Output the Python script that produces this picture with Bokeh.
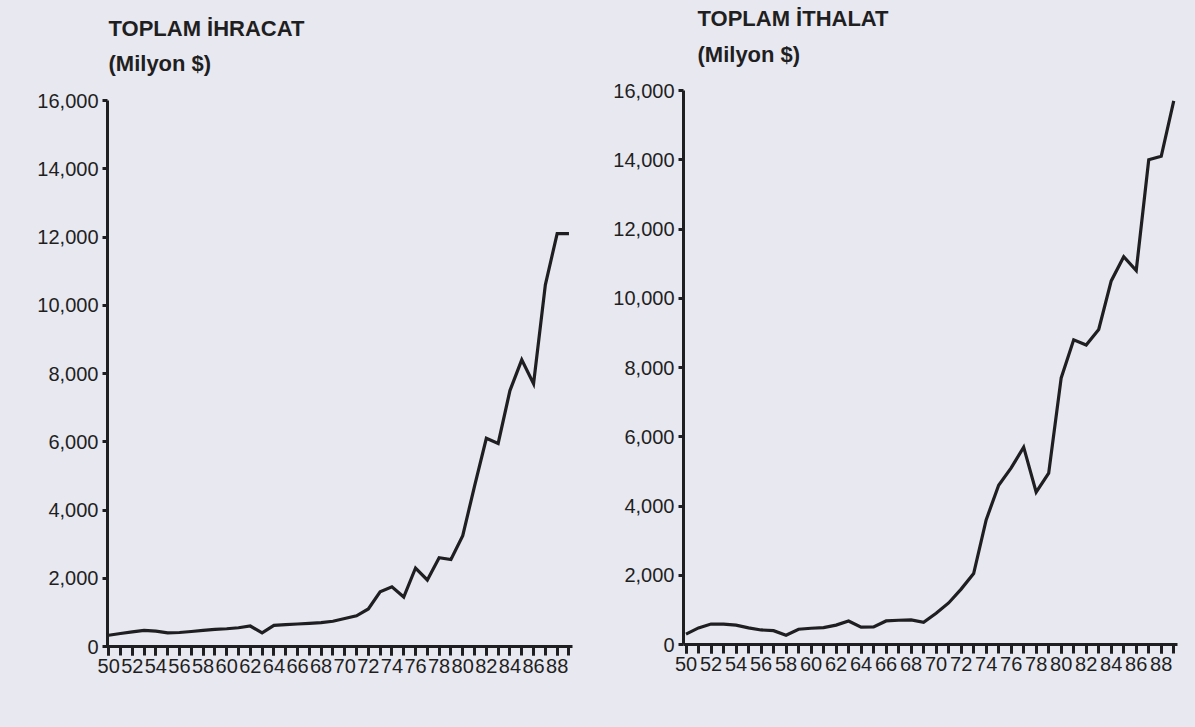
from bokeh.plotting import figure
from bokeh.layouts import row, column
from bokeh.models import FixedTicker, NumeralTickFormatter, Label, Range1d
from bokeh.embed import file_html
from bokeh.resources import INLINE

# ---------------- data ----------------
years = list(range(1950, 1990))

exports = [330, 380, 430, 470, 450, 400, 410, 440, 470, 500,
           520, 550, 600, 400, 620, 640, 660, 680, 700, 740,
           820, 900, 1100, 1600, 1750, 1450, 2300, 1950, 2600, 2550,
           3250, 4700, 6100, 5950, 7500, 8400, 7700, 10600, 12100, 12100]

imports = [300, 480, 590, 590, 560, 480, 420, 400, 270, 440,
           470, 490, 560, 680, 500, 510, 680, 700, 710, 640,
           900, 1200, 1600, 2050, 3600, 4600, 5100, 5700, 4400, 4950,
           7700, 8800, 8650, 9100, 10500, 11200, 10800, 14000, 14100, 15700]

tick_years = [1950, 1952, 1954, 1956, 1958, 1960, 1962, 1964, 1966, 1968,
              1970, 1972, 1974, 1976, 1978, 1980, 1982, 1984, 1986, 1988]
tick_labels = ["50", "52", "54", "56", "58", "60", "62", "64", "66", "68",
               "70", "72", "74", "76", "78", "80", "82", "84", "86", "88"]
y_ticks = [0, 2000, 4000, 6000, 8000, 10000, 12000, 14000, 16000]

titles = [["TOPLAM İHRACAT", "(Milyon $)"], ["TOPLAM İTHALAT", "(Milyon $)"]]

# ---------------- style ----------------
BG = "#e8e8f1"
INK = "#1f1f22"
FONT = "Liberation Sans"
PAGE_H = 727


def make_title(title_lines, width, height, b_left, b_right, fig_left, title_x, title_ys):
    # frame of this figure is aligned with the chart frame below it
    frame_w = width - b_left - b_right
    t = figure(width=width, height=height, output_backend="svg", toolbar_location=None,
               x_range=Range1d(0, frame_w), y_range=Range1d(0, height),
               x_axis_location=None, y_axis_location=None,
               min_border_left=b_left, min_border_right=b_right,
               min_border_top=0, min_border_bottom=0,
               background_fill_color=None, border_fill_color=BG, outline_line_color=None)
    t.grid.visible = False
    for txt, py in zip(title_lines, title_ys):
        t.add_layout(Label(x=title_x - fig_left - b_left, y=height - py, text=txt,
                           text_font=FONT, text_font_style="bold",
                           text_font_size="22px", text_color=INK,
                           text_baseline="middle", text_align="left"))
    return t


def make_chart(values, width, height, b_left, b_right, b_top, b_bottom, x_start, x_end):
    p = figure(width=width, height=height, output_backend="svg", toolbar_location=None,
               x_range=Range1d(x_start, x_end), y_range=Range1d(0, 16000),
               min_border_left=b_left, min_border_right=b_right,
               min_border_top=b_top, min_border_bottom=b_bottom,
               background_fill_color=None, border_fill_color=BG, outline_line_color=None)
    p.grid.visible = False

    p.line(years, values, line_width=3.2, color=INK, line_join="miter")

    xa = p.xaxis[0]
    xa.ticker = FixedTicker(ticks=tick_years, minor_ticks=years)
    xa.major_label_overrides = {t: l for t, l in zip(tick_years, tick_labels)}
    xa.axis_line_width = 3
    xa.axis_line_color = INK
    xa.major_tick_line_width = 3
    xa.minor_tick_line_width = 3
    xa.major_tick_line_color = INK
    xa.minor_tick_line_color = INK
    xa.major_tick_in = 0
    xa.major_tick_out = 9
    xa.minor_tick_in = 0
    xa.minor_tick_out = 9
    xa.major_label_standoff = 3
    xa.major_label_text_font = FONT
    xa.major_label_text_font_size = "20px"
    xa.major_label_text_color = INK

    ya = p.yaxis[0]
    ya.ticker = FixedTicker(ticks=y_ticks)
    ya.formatter = NumeralTickFormatter(format="0,0")
    ya.axis_line_width = 3
    ya.axis_line_color = INK
    ya.major_tick_line_width = 3
    ya.major_tick_line_color = INK
    ya.major_tick_in = 0
    ya.major_tick_out = 5
    ya.minor_tick_line_color = None
    ya.major_label_standoff = 4
    ya.major_label_text_font = FONT
    ya.major_label_text_font_size = "20px"
    ya.major_label_text_color = INK
    return p


# left panel: page x 0..585, frame x 107..572, y 100..646
LW, L_BL, L_BR = 585, 107, 13
lt = make_title(titles[0], LW, 88, L_BL, L_BR, 0, 108, [28, 63])
lc = make_chart(exports, LW, PAGE_H - 88, b_left=L_BL, b_right=L_BR, b_top=12, b_bottom=81,
                x_start=1949.9, x_end=1989.3)

# right panel: page x 585..1195, frame x 683..1177, y 90..644
RW, R_BL, R_BR = 610, 98, 18
rt = make_title(titles[1], RW, 78, R_BL, R_BR, 585, 697, [18, 54])
rc = make_chart(imports, RW, PAGE_H - 78, b_left=R_BL, b_right=R_BR, b_top=12, b_bottom=83,
                x_start=1949.8, x_end=1989.3)

lcol = column(lt, lc, spacing=0)
rcol = column(rt, rc, spacing=0)
for c in (lcol, rcol):
    c.styles = {"background-color": BG}
layout = row(lcol, rcol, spacing=0)
layout.styles = {"background-color": BG}

open("out.html", "w").write(file_html(layout, INLINE))
